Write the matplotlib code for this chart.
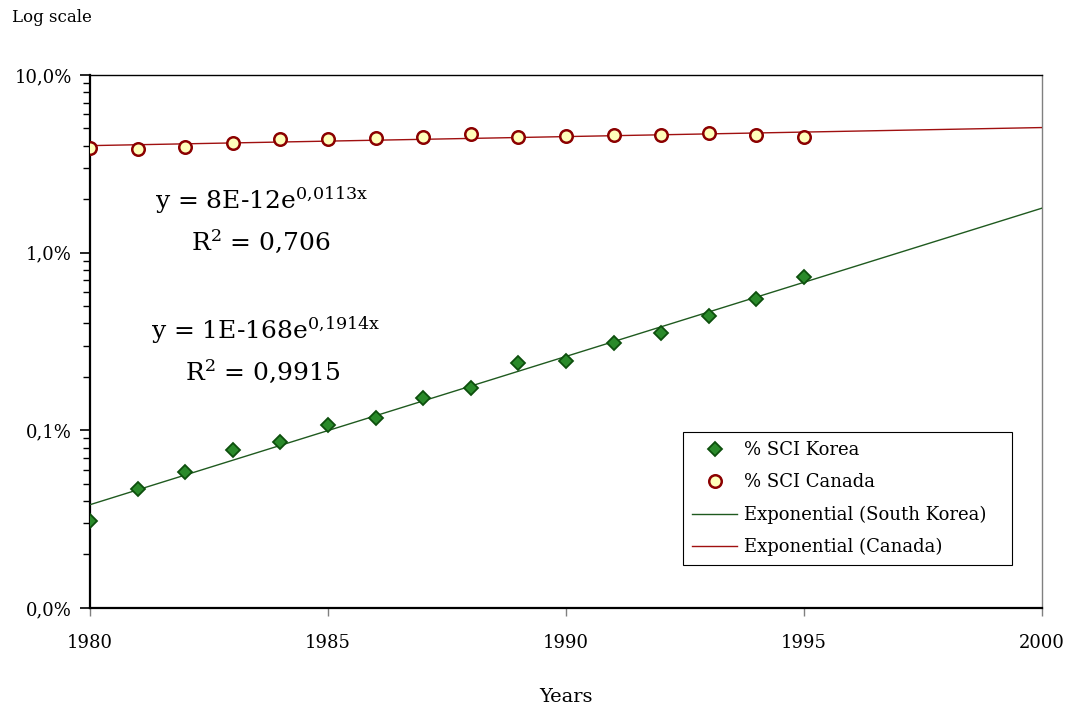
import numpy as np
import matplotlib
matplotlib.use('Agg')
import matplotlib.pyplot as plt
from matplotlib.ticker import FixedLocator, FixedFormatter, LogLocator, NullFormatter

years = [1980, 1981, 1982, 1983, 1984, 1985, 1986, 1987,
         1988, 1989, 1990, 1991, 1992, 1993, 1994, 1995]
# share of SCI publications, in percent
sci_korea = [0.031, 0.047, 0.058, 0.077, 0.086, 0.107, 0.117, 0.152,
             0.173, 0.239, 0.245, 0.310, 0.353, 0.440, 0.548, 0.729]
sci_canada = [3.88, 3.85, 3.95, 4.12, 4.34, 4.38, 4.44, 4.48,
              4.67, 4.46, 4.55, 4.61, 4.60, 4.69, 4.57, 4.49]

ytick_vals = [0.01, 0.1, 1.0, 10.0]
ytick_labels = ['0,0%', '0,1%', '1,0%', '10,0%']
xtick_vals = [1980, 1985, 1990, 1995, 2000]

eq_korea = r'y = 1E-168e$^{\mathregular{0{,}1914x}}$'
r2_korea = r'R$^{\mathregular{2}}$ = 0,9915'
eq_canada = r'y = 8E-12e$^{\mathregular{0{,}0113x}}$'
r2_canada = r'R$^{\mathregular{2}}$ = 0,706'

plt.rcParams['font.family'] = ['DejaVu Serif']
plt.rcParams['mathtext.fontset'] = 'dejavuserif'

# exponential trendlines (least squares on log values, like Excel)
x = np.array(years, dtype=float)
bk, ak = np.polyfit(x, np.log(sci_korea), 1)
bc, ac = np.polyfit(x, np.log(sci_canada), 1)
xt = np.linspace(1980, 2000, 200)

fig = plt.figure(figsize=(10.74, 7.11), dpi=100)
ax = fig.add_axes([0.0838, 0.1449, 0.8864, 0.7496])

green_dark = '#0d4f0d'
green = '#2a8a2a'
red = '#8b0000'

ax.plot(x, sci_korea, linestyle='none', marker='D', markersize=7,
        markerfacecolor=green, markeredgecolor=green_dark, markeredgewidth=1.3,
        label='% SCI Korea', zorder=4)
ax.plot(x, sci_canada, linestyle='none', marker='o', markersize=9,
        markerfacecolor='#ffffbb', markeredgecolor=red, markeredgewidth=1.8,
        label='% SCI Canada', zorder=4)
ax.plot(xt, np.exp(ak + bk * xt), color='#1f5a1f', lw=1.0,
        label='Exponential (South Korea)', zorder=3)
ax.plot(xt, np.exp(ac + bc * xt), color='#a01010', lw=1.0,
        label='Exponential (Canada)', zorder=3)

ax.set_yscale('log')
ax.set_ylim(0.01, 10)
ax.set_xlim(1980, 2000)

ax.yaxis.set_major_locator(FixedLocator(ytick_vals))
ax.yaxis.set_major_formatter(FixedFormatter(ytick_labels))
ax.yaxis.set_minor_locator(LogLocator(base=10, subs=np.arange(2, 10)))
ax.yaxis.set_minor_formatter(NullFormatter())
ax.set_xticks(xtick_vals)
ax.set_xticklabels([str(v) for v in xtick_vals])

ax.tick_params(axis='y', which='major', direction='out', length=7,
               width=1.2, labelsize=13, colors='black', pad=6)
ax.tick_params(axis='y', which='minor', direction='out', length=5, width=1.0)
ax.tick_params(axis='x', which='major', direction='out', length=6, width=1.0,
               color='#808080', labelcolor='black', labelsize=13, pad=13)

for side in ['left', 'bottom']:
    ax.spines[side].set_linewidth(1.6)
    ax.spines[side].set_color('black')
ax.spines['top'].set_linewidth(1.0)
ax.spines['right'].set_linewidth(1.0)
ax.spines['right'].set_color('#808080')

ax.set_xlabel('Years', fontsize=14, labelpad=26)
fig.text(12 / 1074, 1 - 18 / 711, 'Log scale', fontsize=12, va='center', ha='left')

ax.text(1981.37, 1.78, eq_canada, fontsize=18, ha='left', va='baseline')
ax.text(1982.12, 1.035, r2_canada, fontsize=18, ha='left', va='baseline')
ax.text(1981.28, 0.327, eq_korea, fontsize=18, ha='left', va='baseline')
ax.text(1982.0, 0.192, r2_korea, fontsize=18, ha='left', va='baseline')

leg = ax.legend(loc='upper left', bbox_to_anchor=(0.623, 0.0, 0.345, 0.330),
                mode='expand', fontsize=13, frameon=True, fancybox=False,
                edgecolor='black', framealpha=1, handlelength=2.5,
                handletextpad=0.35, borderaxespad=0, labelspacing=0.79,
                borderpad=0.5)
leg.get_frame().set_linewidth(0.8)

fig.savefig('out.png', dpi=100)
